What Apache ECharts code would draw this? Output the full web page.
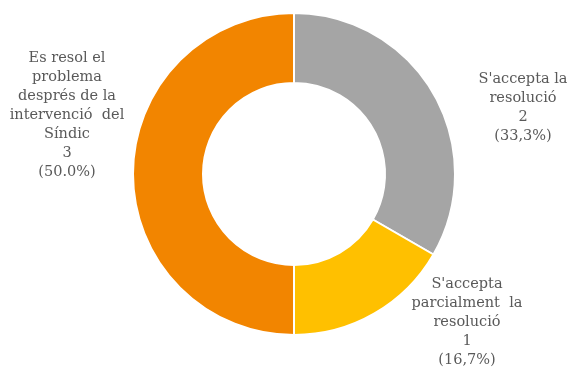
<!DOCTYPE html>
<html>
<head>
<meta charset="utf-8">
<style>
  html, body { margin: 0; padding: 0; background: #ffffff; }
  #chart { width: 574px; height: 369px; }
</style>
<script src="https://cdn.jsdelivr.net/npm/echarts@6/dist/echarts.min.js"></script>
</head>
<body>
<div id="chart"></div>
<script>
// Resolution outcomes, clockwise from 12 o'clock
const categories = [
  "S'accepta la\nresolució",
  "S'accepta\nparcialment  la\nresolució",
  "Es resol el\nproblema\ndesprés de la\nintervenció  del\nSíndic"
];
const counts = [2, 1, 3];
const percentLabels = ["(33,3%)", "(16,7%)", "(50.0%)"];
const colors = ["#a5a5a5", "#ffc000", "#f28500"];

// label anchor (centre of the text block) for each slice
const labelAnchors = [
  [523, 108],
  [467, 322],
  [67, 115]
];

const chart = echarts.init(document.getElementById('chart'));

chart.setOption({
  animation: false,
  series: [{
    type: 'pie',
    center: [294, 174],
    radius: [91, 161],
    startAngle: 90,
    clockwise: true,
    avoidLabelOverlap: false,
    itemStyle: { borderColor: '#ffffff', borderWidth: 2 },
    label: {
      show: true,
      position: 'outside',
      color: '#595959',
      fontFamily: '"DejaVu Serif", serif',
      fontSize: 14.5,
      lineHeight: 19,
      align: 'center',
      formatter: p => p.name + '\n' + p.value + '\n' + percentLabels[p.dataIndex]
    },
    labelLine: { show: false },
    labelLayout: p => ({
      x: labelAnchors[p.dataIndex][0],
      y: labelAnchors[p.dataIndex][1],
      align: 'center',
      verticalAlign: 'middle'
    }),
    data: categories.map((c, i) => ({
      name: c,
      value: counts[i],
      itemStyle: { color: colors[i] }
    }))
  }]
});
</script>
</body>
</html>
